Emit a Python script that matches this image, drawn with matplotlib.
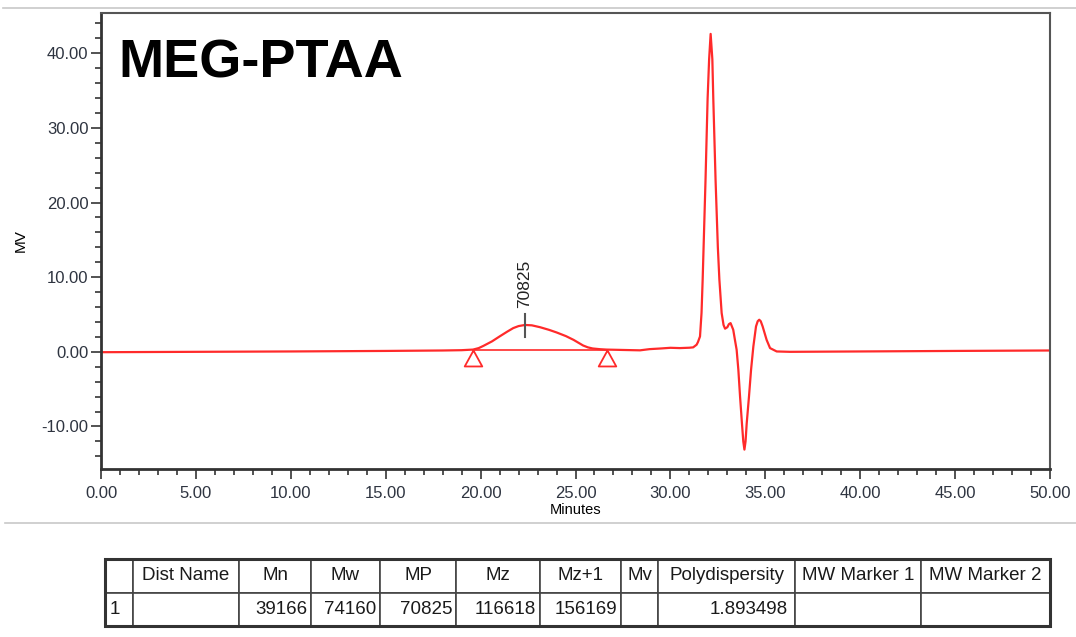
import matplotlib.pyplot as plt
from matplotlib.lines import Line2D
from matplotlib.ticker import MultipleLocator, FormatStrFormatter

# GPC trace (minutes, mV)
minutes = [0.0, 5.0, 10.0, 15.0, 18.0, 19.0, 19.6, 19.9, 20.15, 20.6, 21.0,
           21.4, 21.72, 22.0, 22.34, 22.7, 23.13, 23.6, 24.0, 24.5, 24.9,
           25.2, 25.4, 25.65, 25.9, 26.3, 26.64, 27.5, 28.4, 28.9, 29.5,
           30.0, 30.5, 31.0, 31.2, 31.38, 31.45, 31.56, 31.64, 31.7, 31.85,
           31.96, 32.04, 32.12, 32.21, 32.26, 32.38, 32.5, 32.58, 32.7, 32.8,
           32.88, 33.0, 33.08, 33.17, 33.31, 33.4, 33.49, 33.58, 33.67, 33.77,
           33.84, 33.9, 33.96, 34.02, 34.14, 34.25, 34.37, 34.51, 34.6, 34.68,
           34.76, 34.86, 35.07, 35.25, 35.6, 36.3, 40.0, 45.0, 50.0]
signal = [-0.05, 0.0, 0.05, 0.12, 0.18, 0.22, 0.3, 0.5, 0.8, 1.4, 2.06,
          2.7, 3.18, 3.45, 3.6, 3.55, 3.3, 2.95, 2.6, 2.1, 1.6,
          1.15, 0.85, 0.6, 0.45, 0.35, 0.3, 0.25, 0.2, 0.36, 0.45,
          0.54, 0.5, 0.55, 0.6, 0.95, 1.3, 2.06, 5.2, 9.7, 23.0,
          33.9, 39.2, 42.6, 39.2, 33.9, 23.0, 14.0, 9.7, 5.2, 3.6,
          3.1, 3.3, 3.7, 3.85, 2.96, 1.6, 0.27, -2.4, -6.0, -9.6,
          -12.0, -13.1, -12.0, -9.6, -6.0, -2.4, 0.7, 3.4, 4.1, 4.3,
          4.1, 3.4, 1.6, 0.5, 0.05, 0.0, 0.05, 0.12, 0.18]

# integration limits and peak apex
limit_x = [19.6, 26.64]
limit_y = [0.3, 0.3]
peak_x = 22.34
peak_y = 3.6
peak_label = "70825"

columns = ["", "Dist Name", "Mn", "Mw", "MP", "Mz", "Mz+1", "Mv",
           "Polydispersity", "MW Marker 1", "MW Marker 2"]
row = ["1", "", "39166", "74160", "70825", "116618", "156169", "",
       "1.893498", "", ""]
col_edges = [105, 133, 239, 311, 380, 456, 540, 621, 658, 795, 921, 1050]

W, H = 1076, 637
plt.rcParams["font.family"] = ["Liberation Sans", "DejaVu Sans"]
fig = plt.figure(figsize=(W / 100, H / 100), dpi=100)
ax = fig.add_axes([101 / W, 1 - 469 / H, (1050 - 101) / W, (469 - 13) / H])

red = "#ff2a2a"
ax.plot(minutes, signal, color=red, lw=1.6, solid_joinstyle="round")
ax.plot(limit_x, limit_y, color=red, lw=1.2)
tri = [(0, 0), (-0.55, -1), (0.55, -1), (0, 0)]
ax.plot(limit_x, limit_y, ls="none", marker=tri, markersize=23,
        markerfacecolor="none", markeredgecolor=red, markeredgewidth=1.3)
ax.plot([peak_x, peak_x], [peak_y - 1.6, peak_y + 1.5], color="#555555", lw=1.5)
ax.text(peak_x, peak_y + 2.3, peak_label, rotation=90, ha="center",
        va="bottom", fontsize=12.5, color="#222222")

ax.set_xlim(0, 50)
ax.set_ylim(-15.7, 45.4)
ax.xaxis.set_major_locator(MultipleLocator(5))
ax.xaxis.set_minor_locator(MultipleLocator(1))
ax.yaxis.set_major_locator(MultipleLocator(10))
ax.yaxis.set_minor_locator(MultipleLocator(2))
ax.xaxis.set_major_formatter(FormatStrFormatter("%.2f"))
ax.yaxis.set_major_formatter(FormatStrFormatter("%.2f"))
ax.tick_params(which="major", direction="out", length=7, width=1.3,
               color="#444444", labelsize=12, labelcolor="#2e3440")
ax.tick_params(axis="y", which="major", pad=2)
ax.tick_params(axis="x", which="major", pad=5)
ax.tick_params(which="minor", direction="out", length=4, width=1.3,
               color="#444444")
for side in ("left", "bottom"):
    ax.spines[side].set_linewidth(2.0)
    ax.spines[side].set_color("#333333")
for side in ("top", "right"):
    ax.spines[side].set_linewidth(1.5)
    ax.spines[side].set_color("#555555")
ax.set_xlabel("Minutes", fontsize=10.5, labelpad=2)
ax.set_ylabel("MV", fontsize=11, labelpad=10)

fig.text(118 / W, 1 - 78 / H, "MEG-PTAA", fontsize=39, fontweight="bold",
         va="baseline", ha="left")

# separator rules
for y, x0 in ((8, 3), (523, 5)):
    fig.add_artist(Line2D([x0 / W, 1], [1 - y / H, 1 - y / H],
                          transform=fig.transFigure, color="#c8c8c8", lw=1.2))

# results table
tab = fig.add_axes([105 / W, 1 - 626 / H, (1050 - 105) / W, (626 - 559) / H])
tab.axis("off")
widths = [(b - a) / (col_edges[-1] - col_edges[0])
          for a, b in zip(col_edges[:-1], col_edges[1:])]
table = tab.table(cellText=[row], colLabels=columns, colWidths=widths,
                  bbox=[0, 0, 1, 1], cellLoc="center")
table.auto_set_font_size(False)
for (r, c), cell in table.get_celld().items():
    cell.set_edgecolor("#444444")
    cell.set_linewidth(1.2)
    cell.get_text().set_fontsize(13.5)
    cell.get_text().set_color("#1a1a1a")
    if r == 1:
        if c == 0:
            cell._loc = "left"
            cell.PAD = 0.15
        else:
            cell._loc = "right"
            cell.PAD = 0.05
        cell.get_text().set_horizontalalignment(cell._loc)
tab.add_patch(plt.Rectangle((0, 0), 1, 1, transform=tab.transAxes,
                            fill=False, lw=2.2, edgecolor="#333333",
                            clip_on=False))

fig.savefig("out.png", dpi=100)
